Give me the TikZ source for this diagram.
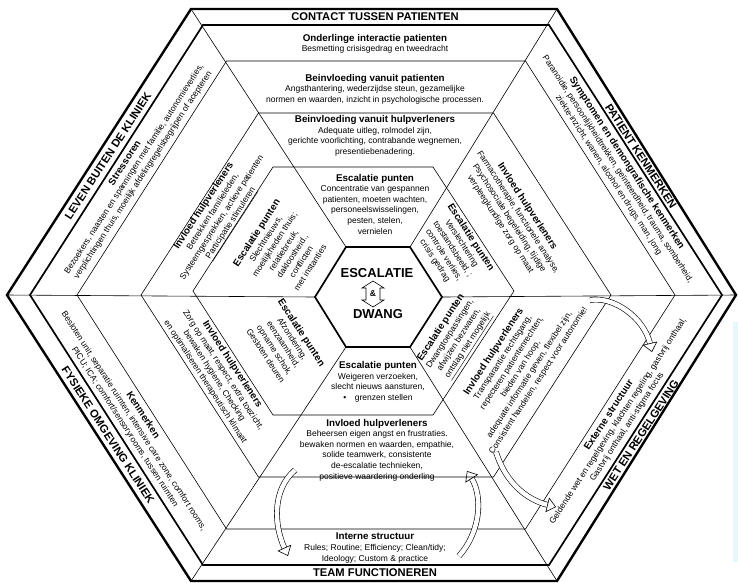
\documentclass[tikz,border=0pt]{standalone}
\usepackage{fontspec}
\setmainfont{Liberation Sans}
\usetikzlibrary{arrows.meta}

\newcommand{\kop}[1]{{\fontsize{9.8}{11}\selectfont\bfseries #1}}

\begin{document}
\begin{tikzpicture}[x=1pt,y=1pt,yscale=-1,xscale=1,
  rand/.style={line width=2.4pt,line join=miter},
  rand2/.style={line width=1.7pt,line join=miter},
  lijn/.style={line width=0.6pt},
  txt/.style={inner sep=0.75pt,align=center,font=\fontsize{8.5}{10.6}\selectfont},
  titel/.style={inner sep=0.75pt,font=\fontsize{11.2}{12}\selectfont\bfseries},
  groot/.style={inner sep=0.75pt,font=\fontsize{13}{14}\selectfont\bfseries},
  pijl/.style={double=white,double distance=4.5pt,line width=0.6pt,-{Triangle[open,length=9pt,width=15pt]}}]

\useasboundingbox (0,0) rectangle (738,582);

%Shape: Rectangle (rand van scan)
\fill [cyan!10] (733,322) rectangle (738,562) ;

%Shape: Hexagon outer
\draw [rand] (7,295) -- (191,9) -- (557,9) -- (736,295) -- (557,581) -- (191,581) -- cycle ;
%Shape: Hexagon second
\draw [rand2] (30,295) -- (203,25) -- (549,25) -- (722,295) -- (549,565) -- (203,565) -- cycle ;
%Shape: Hexagon third
\draw [lijn] (77,295) -- (226.5,61) -- (525.5,61) -- (675,295) -- (525.5,529) -- (226.5,529) -- cycle ;
%Shape: Hexagon fourth
\draw [lijn] (141,295) -- (258.5,113) -- (493.5,113) -- (611,295) -- (493.5,477) -- (258.5,477) -- cycle ;
%Shape: Hexagon escalatie
\draw [lijn] (193,291) -- (273,167) -- (433,167) -- (514,291) -- (433,415) -- (273,415) -- cycle ;
%Straight Lines
\draw [lijn] (191,9) -- (346,247) ;
\draw [lijn] (557,9) -- (410,247) ;
\draw [lijn] (736,295) -- (442,297) ;
\draw [lijn] (557,581) -- (410,347) ;
\draw [lijn] (191,581) -- (346,347) ;
\draw [lijn] (7,295) -- (315,297) ;
%Shape: Hexagon center
\draw [rand2,fill=white] (315,297) -- (346,247) -- (410,247) -- (442,297) -- (410,347) -- (346,347) -- cycle ;

%Curve Lines
\draw [pijl] (295,470) .. controls (272,490) and (274,525) .. (288,556) ;
\draw [pijl] (459,556) .. controls (482,530) and (482,495) .. (467,471) ;
\draw [pijl] (590,300) .. controls (614,296) and (644,318) .. (652,352) ;
\draw [pijl] (496,452) .. controls (506,484) and (528,500) .. (556,507) ;

%Shape: double arrow
\draw [lijn,fill=white] (373,281) -- (384,288) -- (380,288) -- (380,300) -- (384,300) -- (373,307) -- (362,300) -- (366,300) -- (366,288) -- (362,288) -- cycle ;

% Text Node
\node [groot] (escal) at (377,273) {ESCALATIE};
% Text Node
\node [font=\fontsize{8.5}{9}\selectfont\bfseries] (amp) at (373,294) {\&};
% Text Node
\node [groot] (dwang) at (378,314) {DWANG};

% Text Node
\node [titel] (contact) at (375,17) {CONTACT TUSSEN PATIENTEN};
% Text Node
\node [txt] (onderling) at (375,44) {\kop{Onderlinge interactie patienten}\\Besmetting crisisgedrag en tweedracht};
% Text Node
\node [txt] (bvpat) at (375,89) {\kop{Beinvloeding vanuit patienten}\\Angsthantering, wederzijdse steun, gezamelijke\\normen en waarden, inzicht in psychologische processen.};
% Text Node
\node [txt] (bvhulp) at (375,136) {\kop{Beinvloeding vanuit hulpverleners}\\Adequate uitleg, rolmodel zijn,\\gerichte voorlichting, contrabande wegnemen,\\presentiebenadering.};
% Text Node
\node [txt] (escb) at (375,204) {\kop{Escalatie punten}\\Concentratie van gespannen\\patienten, moeten wachten,\\personeelswisselingen,\\pesten, stelen,\\vernielen};

% Text Node
\node [titel,rotate=57] (leven) at (108,156) {LEVEN BUITEN DE KLINIEK};
% Text Node
\node [txt,rotate=57] (stress) at (134,169) {\kop{Stressoren}\\Bezoekers, naasten en spanningen met familie, autonomieverlies,\\verplichtingen thuis, moeilijk afdelingregelsbegrijpen of acepteren};
% Text Node
\node [txt,rotate=57] (invlb) at (218,215) {\kop{Invloed hulpverleners}\\Betrekken familieleden,\\Systeemgesprekken, actieve patienten\\\underline{Participatie stimuleren}};
% Text Node
\node [txt,rotate=57] (esclb) at (283,250) {\kop{Escalatie punten}\\Slechtnieuws,\\moeilijkheden thuis;\\relatiebreuk,\\dakloosheid.,\\conflicten\\met instanties};

% Text Node
\node [titel,rotate=-57] (patient) at (641,156) {PATIENT KENMERKEN};
% Text Node
\node [txt,rotate=-57] (sympt) at (618,169) {\kop{Symptomen en demongrafische kenmerken}\\Paranoidie, persoonlijkheidtrekken, geïnteerdheid, trauma, somberheid,\\ziekte-inzicht, wanen, alcohol en drugs, man, jong};
% Text Node
\node [txt,rotate=-57] (invrb) at (514,215) {\kop{Invloed hulpverleners}\\Farmacotherapie, functionele analyse,\\Psychosociale begeleiding, tijdige\\verpleegkundige zorg op maat};
% Text Node
\node [txt,rotate=-57] (escrb) at (453,249) {\kop{Escalatie punten}\\Verslechtering\\toestandsbeeld, ;\\controle verlies,\\crisis gedrag};

% Text Node
\node [titel,rotate=57] (wet) at (641,435) {WET EN REGELGEVING};
% Text Node
\node [txt,rotate=57] (extern) at (618,421) {\kop{Externe structuur}\\Geldende wet en regelgeving, klachten regeling, gastvrij onthaal,\\Gastvrij onthaal, anti-stigma focus};
% Text Node
\node [txt,rotate=57] (invro) at (516,366) {\kop{Invloed hulpverleners}\\Transparantie rechtsgang,\\repecteren patientenrechten,\\bieden van hoop,\\adequate informatie geven, flexibel zijn,\\Consistent handelen, respect voor autonomie!};
% Text Node
\node [txt,rotate=57] (escro) at (455,337) {\kop{Escalatie punten}\\Dwangtoepassingen,\\afwijzen bezwaren,\\\underline{ontslag niet mogelijk}};

% Text Node
\node [titel] (team) at (375,573) {TEAM FUNCTIONEREN};
% Text Node
\node [txt] (intern) at (375,548) {\kop{Interne structuur}\\Rules; Routine; Efficiency; Clean/tidy;\\Ideology; Custom \& practice};
% Text Node
\node [txt] (invo) at (377,450) {\kop{Invloed hulpverleners}\\Beheersen eigen angst en frustraties.\\bewaken normen en waarden, empathie,\\solide teamwerk, consistente\\de-escalatie technieken,\\positieve waardering onderling};
% Text Node
\node [txt] (esco) at (378,382) {\kop{Escalatie punten}\\Weigeren verzoeken,\\slecht nieuws aansturen,\\\textbullet\quad grenzen stellen};

% Text Node
\node [titel,rotate=-57] (fysiek) at (108,435) {FYSIEKE OMGEVING KLINIEK};
% Text Node
\node [txt,rotate=-57] (kenm) at (134,421) {\kop{Kenmerken}\\Besloten unit, separatie ruimten, intensive care zone, comfort rooms,\\PICU; ICA; comfort/sensoryrooms, tussen ruimten};
% Text Node
\node [txt,rotate=-57] (invlo) at (219,373) {\kop{Invloed hulpverleners}\\Zorg op maat, respect, extra toezicht,\\bewaken hygiene, Checking\\en optimaliseren therapeutisch klimaat};
% Text Node
\node [txt,rotate=-57] (esclo) at (284,344) {\kop{Escalatie punten}\\Afzondering,\\eenzaamheid,\\opname schok,\\Gesloten deuren};

\end{tikzpicture}
\end{document}
